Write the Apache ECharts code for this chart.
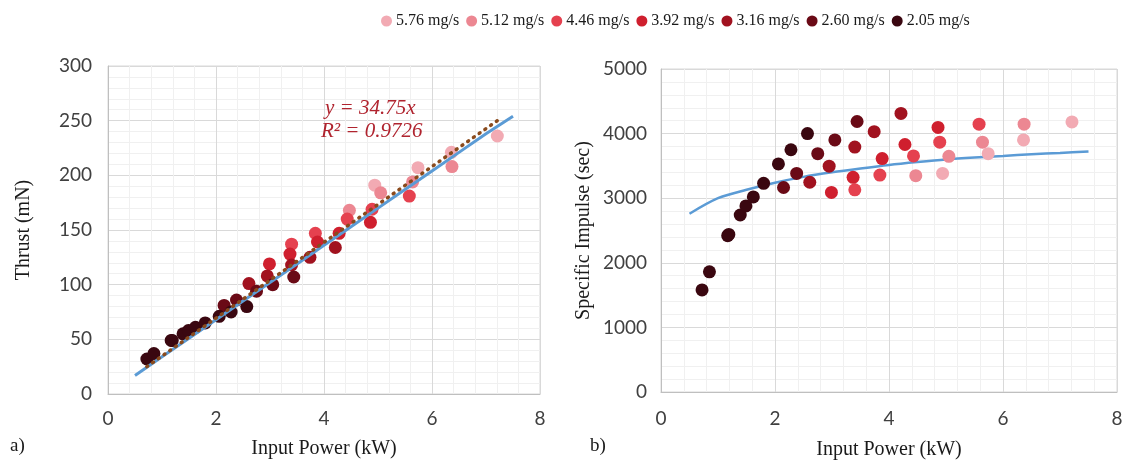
<!DOCTYPE html>
<html>
<head>
<meta charset="utf-8">
<script src="https://cdn.jsdelivr.net/npm/echarts@6/dist/echarts.min.js"></script>
<style>
  html, body { margin: 0; padding: 0; background: #fff; }
  #chart { width: 1133px; height: 465px; }
</style>
</head>
<body>
<div id="chart"></div>
<script>
// mass flow rates (legend), colours from light to dark
const flowNames = ['5.76 mg/s', '5.12 mg/s', '4.46 mg/s', '3.92 mg/s', '3.16 mg/s', '2.60 mg/s', '2.05 mg/s'];
const flowColors = ['#f2aab3', '#ec8792', '#e5414f', '#cf1f2e', '#a1121f', '#6a0a16', '#3a0710'];

// input power (kW) per flow rate
const power = [
  [4.94, 5.74, 6.36, 7.21],
  [4.47, 5.05, 5.64, 6.37],
  [3.40, 3.84, 4.43, 4.89, 5.58],
  [2.99, 3.37, 3.88, 4.28, 4.86],
  [2.61, 2.95, 3.40, 3.74, 4.21],
  [2.15, 2.38, 2.75, 3.05, 3.44],
  [0.72, 0.85, 1.17, 1.19, 1.39, 1.49, 1.62, 1.80, 2.06, 2.28, 2.57]
];
// thrust (mN)
const thrust = [
  [191, 207, 221, 236],
  [168, 184, 194, 208],
  [137, 147, 160, 169, 181],
  [119, 128, 139, 147, 157],
  [101, 108, 118, 125, 134],
  [81, 86, 94, 100, 107],
  [32, 37, 49, 49, 55, 58, 61, 65, 71, 75, 80]
];
// specific impulse (sec)
const isp = [
  [3384, 3689, 3902, 4181],
  [3349, 3648, 3867, 4146],
  [3130, 3358, 3654, 3867, 4146],
  [3090, 3323, 3613, 3831, 4096],
  [3247, 3496, 3791, 4030, 4313],
  [3166, 3384, 3689, 3902, 4187],
  [1580, 1860, 2420, 2440, 2740, 2880, 3020, 3230, 3530, 3750, 4000]
];

// model lines
const modelX = [0.5, 1, 1.5, 2, 2.5, 3, 3.5, 4, 4.5, 5, 5.5, 6, 6.5, 7, 7.5];
const modelThrust = [17, 34, 51, 68, 85, 102, 119, 136, 153, 170, 187, 204, 221, 238, 254];
const modelIsp = [2760, 3000, 3130, 3240, 3330, 3400, 3460, 3515, 3560, 3600, 3630, 3655, 3680, 3700, 3722];
const trendX = [0.72, 7.21];
const trendY = [25, 250];

const tickFont = { fontFamily: 'Lato', fontSize: 19, color: '#404040' };
const nameFont = { fontFamily: 'Liberation Serif', fontSize: 20, color: '#1a1a1a' };

function valueAxis(gridIndex, extra) {
  return Object.assign({
    type: 'value',
    gridIndex: gridIndex,
    axisLine: { show: true, lineStyle: { color: '#bfbfbf' } },
    axisTick: { show: false },
    minorTick: { show: false, splitNumber: 5 },
    splitLine: { show: true, lineStyle: { color: '#d9d9d9', width: 1 } },
    minorSplitLine: { show: true, lineStyle: { color: '#f0f0f0', width: 1 } },
    nameMoveOverlap: false,
    nameTextStyle: nameFont
  }, extra);
}

function tickLabels(margin) {
  return Object.assign({ margin: margin, formatter: function (v) { return String(v); } }, tickFont);
}

const chart = echarts.init(document.getElementById('chart'));

const series = [];
flowNames.forEach(function (name, i) {
  series.push({
    name: name, type: 'scatter', xAxisIndex: 0, yAxisIndex: 0,
    symbolSize: 13, itemStyle: { color: flowColors[i], opacity: 1 },
    data: power[i].map(function (p, j) { return [p, thrust[i][j]]; }),
    z: 3
  });
  series.push({
    name: name, type: 'scatter', xAxisIndex: 1, yAxisIndex: 1,
    symbolSize: 13, itemStyle: { color: flowColors[i], opacity: 1 },
    data: power[i].map(function (p, j) { return [p, isp[i][j]]; }),
    z: 3
  });
});
series.push({
  type: 'line', xAxisIndex: 0, yAxisIndex: 0, showSymbol: false, silent: true,
  lineStyle: { color: '#5b9bd5', width: 3 },
  data: modelX.map(function (x, i) { return [x, modelThrust[i]]; }), z: 4
});
series.push({
  type: 'line', xAxisIndex: 0, yAxisIndex: 0, showSymbol: false, silent: true,
  lineStyle: { color: '#8a4a1c', width: 3.5, type: [1, 6], cap: 'round' },
  data: trendX.map(function (x, i) { return [x, trendY[i]]; }), z: 5
});
series.push({
  type: 'line', xAxisIndex: 1, yAxisIndex: 1, showSymbol: false, silent: true, smooth: 0.3,
  lineStyle: { color: '#5b9bd5', width: 2.5 },
  data: modelX.map(function (x, i) { return [x, modelIsp[i]]; }), z: 2
});

const option = {
  animation: false,
  backgroundColor: '#ffffff',
  legend: {
    top: 8, left: 376, itemGap: 7, itemWidth: 11, itemHeight: 11,
    icon: 'circle',
    textStyle: { fontFamily: 'Liberation Serif', fontSize: 16, color: '#1a1a1a', padding: [0, 0, 0, -1] },
    data: flowNames
  },
  grid: [
    { left: 108, right: 593, top: 66, bottom: 71, show: true, borderColor: '#d9d9d9', borderWidth: 1 },
    { left: 661, right: 16, top: 69, bottom: 68, show: true, borderColor: '#d9d9d9', borderWidth: 1 }
  ],
  xAxis: [
    valueAxis(0, { min: 0, max: 8, interval: 2, axisLabel: tickLabels(15), name: 'Input Power (kW)', nameLocation: 'middle', nameGap: 45 }),
    valueAxis(1, { min: 0, max: 8, interval: 2, axisLabel: tickLabels(17), name: 'Input Power (kW)', nameLocation: 'middle', nameGap: 48 })
  ],
  yAxis: [
    valueAxis(0, { min: 0, max: 300, interval: 50, axisLabel: tickLabels(16), name: 'Thrust (mN)', nameLocation: 'middle', nameGap: 74 }),
    valueAxis(1, { min: 0, max: 5000, interval: 1000, axisLabel: tickLabels(14), name: 'Specific Impulse (sec)', nameLocation: 'middle', nameGap: 67 })
  ],
  graphic: [
    { type: 'text', left: 325, top: 98, z: 10, style: { text: 'y = 34.75x', fill: '#b0242f', fontStyle: 'italic', fontSize: 21, fontFamily: 'Liberation Serif' } },
    { type: 'text', left: 321, top: 121, z: 10, style: { text: 'R² = 0.9726', fill: '#b0242f', fontStyle: 'italic', fontSize: 21, fontFamily: 'Liberation Serif' } },
    { type: 'text', left: 10, top: 437, style: { text: 'a)', fill: '#1a1a1a', fontSize: 19, fontFamily: 'Liberation Serif' } },
    { type: 'text', left: 590, top: 437, style: { text: 'b)', fill: '#1a1a1a', fontSize: 19, fontFamily: 'Liberation Serif' } }
  ],
  series: series
};
chart.setOption(option);
</script>
</body>
</html>
